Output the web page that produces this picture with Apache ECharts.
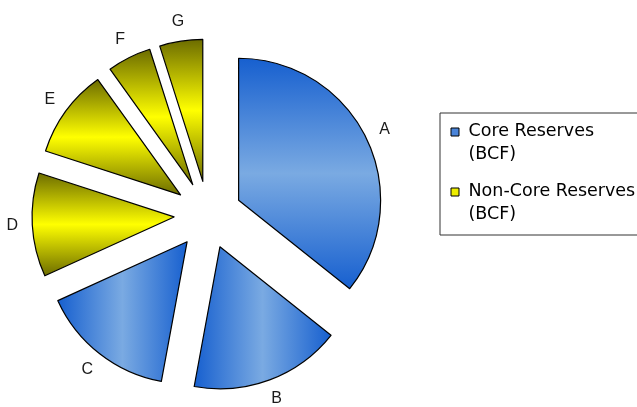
<!DOCTYPE html>
<html>
<head>
<meta charset="utf-8">
<script src="https://cdn.jsdelivr.net/npm/echarts@6/dist/echarts.min.js"></script>
<style>
  html, body { margin: 0; padding: 0; background: #ffffff; }
  #chart { width: 637px; height: 407px; }
</style>
</head>
<body>
<div id="chart"></div>
<script>
// Reserves by block, BCF
const coreNames = ['A', 'B', 'C'];
const coreValues = [357, 172, 153];
const nonCoreNames = ['D', 'E', 'F', 'G'];
const nonCoreValues = [118, 101, 50, 49];
const seriesNames = ['Core Reserves\n(BCF)', 'Non-Core Reserves\n(BCF)'];

// Fills: dark edges with a light band through the middle of each slice
function band(dir, edge, mid) {
  return {
    type: 'linear',
    x: 0, y: 0,
    x2: dir === 'h' ? 1 : 0,
    y2: dir === 'h' ? 0 : 1,
    colorStops: [
      { offset: 0, color: edge },
      { offset: 0.5, color: mid },
      { offset: 1, color: edge }
    ]
  };
}
const BLUE_EDGE = '#165fcf', BLUE_MID = '#7aaae2';
const YEL_EDGE = '#6b6b00', YEL_MID = '#ffff00';
const sliceFill = {
  A: band('v', BLUE_EDGE, BLUE_MID),
  B: band('h', BLUE_EDGE, BLUE_MID),
  C: band('h', BLUE_EDGE, BLUE_MID),
  D: band('v', YEL_EDGE, YEL_MID),
  E: band('v', YEL_EDGE, YEL_MID),
  F: band('v', YEL_EDGE, YEL_MID),
  G: band('v', YEL_EDGE, YEL_MID)
};

const sum = arr => arr.reduce((s, v) => s + v, 0);
const CENTER = [208, 215];
const RADIUS = 142;

function slices(names, values) {
  return names.map((n, i) => ({
    name: n,
    value: values[i],
    selected: true,
    itemStyle: { color: sliceFill[n] },
    select: { itemStyle: { color: sliceFill[n], borderColor: '#000000', borderWidth: 1.2 } }
  }));
}
// transparent filler so each series keeps its own angular range
function spacer(value) {
  return {
    name: '',
    value: value,
    selected: false,
    itemStyle: { color: 'rgba(0,0,0,0)', borderWidth: 0 },
    emphasis: { disabled: true },
    select: { disabled: true }
  };
}

function reserveSeries(name, data) {
  return {
    type: 'pie',
    name: name,
    center: CENTER,
    radius: RADIUS,
    startAngle: 90,
    clockwise: true,
    selectedMode: 'multiple',
    selectedOffset: 34,
    avoidLabelOverlap: false,
    label: { show: false },
    labelLine: { show: false },
    emphasis: { disabled: true },
    itemStyle: { borderColor: '#000000', borderWidth: 1.2 },
    data: data
  };
}

const allNames = coreNames.concat(nonCoreNames);
const allValues = coreValues.concat(nonCoreValues);

const option = {
  backgroundColor: '#ffffff',
  animation: false,
  legend: {
    orient: 'vertical',
    left: 440,
    top: 113,
    padding: [6.5, 14, 8.5, 10],
    itemWidth: 13,
    itemHeight: 46,
    itemGap: 13,
    borderColor: '#333333',
    borderWidth: 1,
    backgroundColor: '#ffffff',
    icon: 'path://M0,0M13,46M0.5,8h8v8h-8z',
    itemStyle: { borderColor: '#000000', borderWidth: 1 },
    textStyle: { fontFamily: 'DejaVu Sans', fontSize: 17.5, lineHeight: 23, color: '#000000' },
    data: [
      { name: seriesNames[0], itemStyle: { color: '#4a84d9' } },
      { name: seriesNames[1], itemStyle: { color: '#eeee00' } }
    ]
  },
  series: [
    reserveSeries(seriesNames[0], slices(coreNames, coreValues).concat([spacer(sum(nonCoreValues))])),
    reserveSeries(seriesNames[1], [spacer(sum(coreValues))].concat(slices(nonCoreNames, nonCoreValues))),
    {
      // category letters around the pie
      type: 'pie',
      name: 'labels',
      center: CENTER,
      radius: [178, 208],
      startAngle: 90,
      clockwise: true,
      silent: true,
      avoidLabelOverlap: false,
      itemStyle: { color: 'rgba(0,0,0,0)', borderWidth: 0 },
      label: {
        show: true,
        position: 'inside',
        formatter: '{b}',
        color: '#1a1a1a',
        fontFamily: 'Liberation Sans',
        fontSize: 16
      },
      labelLine: { show: false },
      emphasis: { disabled: true },
      data: allNames.map((n, i) => ({ name: n, value: allValues[i] }))
    }
  ]
};

const chart = echarts.init(document.getElementById('chart'), null, { renderer: 'canvas' });
chart.setOption(option);
</script>
</body>
</html>
